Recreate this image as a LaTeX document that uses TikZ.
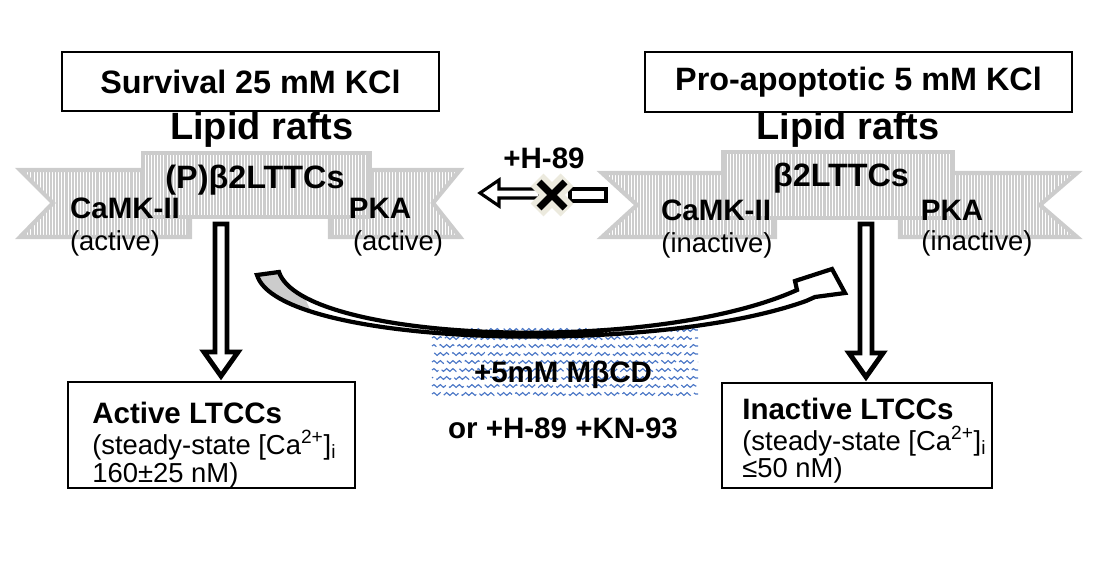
\documentclass[tikz,border=0pt]{standalone}
\usepackage{fontspec}
\setmainfont{Liberation Sans}
\usepackage{tikz}
\usetikzlibrary{calc}
\usetikzlibrary{patterns.meta}
\usetikzlibrary{decorations.pathmorphing}

\definecolor{ribbongray}{RGB}{204,204,204}
\definecolor{wavyblue}{RGB}{74,118,198}
\definecolor{crossbeige}{RGB}{236,234,222}

\begin{document}
\begin{tikzpicture}[x=0.025cm, y=-0.025cm,
        ribbon/.style={preaction={fill=ribbongray}, pattern={Lines[angle=90,distance=2.2pt,line width=0.7pt]}, pattern color=white, draw=ribbongray, line width=3pt, line join=miter},
        titlebox/.style={draw, line width=1.4pt, inner sep=0pt, font=\bfseries\fontsize{23}{27}\selectfont},
        lbox/.style={draw, line width=1.4pt, inner sep=0pt},
        raft/.style={inner sep=0pt, font=\bfseries\fontsize{27}{32}\selectfont},
        chan/.style={inner sep=0pt, font=\bfseries\fontsize{23}{27}\selectfont},
        kin/.style={inner sep=0pt, font=\bfseries\fontsize{21}{25}\selectfont},
        state/.style={inner sep=0pt, font=\fontsize{19.5}{23}\selectfont},
        blockarr/.style={draw, line width=3.5pt, fill=white, line join=miter, miter limit=3},
        hollow/.style={draw, line width=2.2pt, fill=white, line join=miter},
        wavy/.style={wavyblue, line width=0.8pt, decorate, decoration={snake, amplitude=1pt, segment length=4.5pt}, dash pattern=on 14pt off 3pt}]
    \useasboundingbox (0,0) rectangle (1116,564);

    % condition boxes
    \node[titlebox, minimum width=9.425cm, minimum height=1.475cm] (surv) at (250.5,81.5) {Survival 25 mM KCl};
    \node[titlebox, minimum width=10.675cm, minimum height=1.5cm] (proapo) at (858.5,82) {Pro-apoptotic 5 mM KCl};

    % left ribbon
    \draw[ribbon] (20,170) -- (190,170) -- (190,237) -- (20,237) -- (53,203) -- cycle;
    \draw[ribbon] (330,170) -- (460,170) -- (433,203) -- (460,237) -- (330,237) -- cycle;
    \draw[ribbon] (143,153) rectangle (370,217);
    % right ribbon
    \draw[ribbon] (602,173) -- (775,173) -- (775,237) -- (602,237) -- (637,205) -- cycle;
    \draw[ribbon] (900,173) -- (1077,173) -- (1040,205) -- (1077,237) -- (900,237) -- cycle;
    \draw[ribbon] (723,152) rectangle (953,218);

    \node[raft] (raftL) at (262,130) {Lipid rafts};
    \node[raft] (raftR) at (848,130) {Lipid rafts};
    \node[chan] (chanL) at (255,180) {(P)β2LTTCs};
    \node[chan] (chanR) at (841,178) {β2LTTCs};
    \node[kin] (camkL) at (125,208) {CaMK-II};
    \node[kin] (pkaL) at (380,208) {PKA};
    \node[kin] (camkR) at (716,210) {CaMK-II};
    \node[kin] (pkaR) at (952,210) {PKA};
    \node[state] (camkLs) at (115,243) {(active)};
    \node[state] (pkaLs) at (398,243) {(active)};
    \node[state] (camkRs) at (717,245) {(inactive)};
    \node[state] (pkaRs) at (977,243) {(inactive)};

    % blocked H-89 arrow
    \node[kin] (h89) at (544,158) {+H-89};
    \coordinate (hx) at (552,195);
    \draw[hollow] (480,193) -- (499,180) -- (499,189) -- (540,189) -- (540,198) -- (499,198) -- (499,206) -- cycle;
    \draw[hollow] (570,189) rectangle (606,201);
    \draw[crossbeige, line width=13pt] ($(hx)+(-15,-15)$) -- ($(hx)+(15,15)$) ($(hx)+(-15,15)$) -- ($(hx)+(15,-15)$);
    \draw[line width=5pt] ($(hx)+(-13,-13)$) -- ($(hx)+(13,13)$) ($(hx)+(-13,13)$) -- ($(hx)+(13,-13)$);

    % channel state boxes
    \node[lbox, minimum width=7.175cm, minimum height=2.65cm] (act) at (211.5,435) {};
    \node[lbox, minimum width=6.75cm, minimum height=2.625cm] (inact) at (857,435.5) {};
    \node[kin, anchor=west] (acth) at (92,413) {Active LTCCs};
    \node[state, anchor=west] (act1) at (92,445) {(steady-state [Ca\textsuperscript{2+}]\textsubscript{i}};
    \node[state, anchor=west] (act2) at (92,475) {160±25 nM)};
    \node[kin, anchor=west] (inacth) at (742,409) {Inactive LTCCs};
    \node[state, anchor=west] (inact1) at (742,441) {(steady-state [Ca\textsuperscript{2+}]\textsubscript{i}};
    \node[state, anchor=west] (inact2) at (742,470) {≤50 nM)};

    % down arrows
    \coordinate (ltop) at (221,224);
    \coordinate (ltip) at ($(ltop |- act.north)+(0,-5)$);
    \draw[blockarr] ($(ltop)+(-6,0)$) -- ($(ltip)+(-6,-24)$) -- ($(ltip)+(-17,-24)$) -- (ltip)
        -- ($(ltip)+(17,-24)$) -- ($(ltip)+(6,-24)$) -- ($(ltop)+(6,0)$) -- cycle;
    \coordinate (rtop) at (866,224);
    \coordinate (rtip) at ($(rtop |- inact.north)+(0,-5)$);
    \draw[blockarr] ($(rtop)+(-6,0)$) -- ($(rtip)+(-6,-24)$) -- ($(rtip)+(-17,-24)$) -- (rtip)
        -- ($(rtip)+(17,-24)$) -- ($(rtip)+(6,-24)$) -- ($(rtop)+(6,0)$) -- cycle;

    % wavy background of the treatment
    \foreach \k in {0,...,8}
        \draw[wavy, dash phase=\k*5pt] (432,{330+8*\k}) -- (698,{330+8*\k});

    % curved arrow
    \path[save path=\curvband] (279,272) .. controls (302,342) and (650,356) .. (797,290)
        -- (795,281) -- (832,269) -- (845,293) -- (815,297) -- (806,301) .. controls (650,357) and (278,346) .. (257,275) -- cycle;
    \fill[white, use path=\curvband];
    \begin{scope}
        \clip[use path=\curvband];
        \fill[gray!40] (250,262) -- (288,262) -- (316,322) -- (250,308) -- cycle;
    \end{scope}
    \draw[line width=3pt, line join=miter, use path=\curvband];

    \node[kin] (mbcd) at (563,375) {+5mM MβCD};
    \node[kin] (orh) at (563,428) {or +H-89 +KN-93};
\end{tikzpicture}
\end{document}
